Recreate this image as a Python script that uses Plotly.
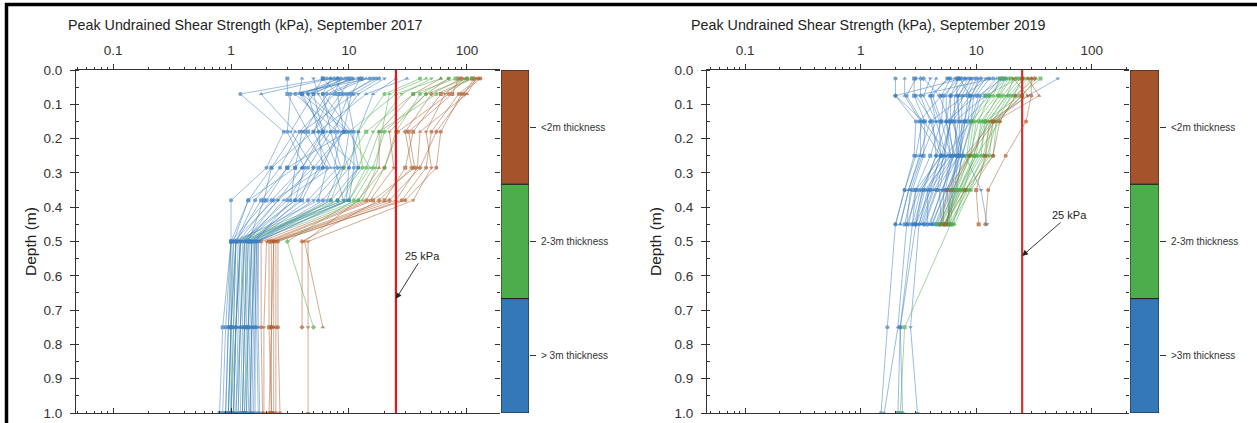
import math
import plotly.graph_objects as go

# ---------------- data ----------------
DEPTH_2017 = [0.025, 0.07, 0.18, 0.285, 0.38, 0.5, 0.75, 1.0]
DEPTH_2019 = [0.025, 0.075, 0.15, 0.25, 0.35, 0.45, 0.75, 1.0]

S2017_BLUE = [
    [6.5, 1.2, 2.8, 2.0, 1.0, 1.0, 0.9, 0.85],
    [7.0, 1.8, 3.5, 2.2, 1.4, 1.05, 0.95, 0.9],
    [3.0, 3.0, 4.5, 3.0, 1.8, 1.1, 1.0, 1.0],
    [8.0, 4.0, 6.0, 4.0, 2.2, 1.15, 1.1, 1.05],
    [9.0, 5.0, 3.2, 5.0, 2.5, 1.2, 1.15, 1.1],
    [10, 6.0, 7.0, 4.5, 3.0, 1.25, 1.2, 1.15],
    [12, 3.5, 8.0, 6.0, 3.5, 1.3, 1.25, 1.2],
    [14, 7.0, 5.0, 7.0, 2.8, 1.35, 1.3, 1.25],
    [6.0, 8.0, 9.0, 5.5, 4.0, 1.4, 1.35, 1.3],
    [7.5, 9.0, 6.0, 8.0, 4.5, 1.45, 1.4, 1.35],
    [11, 4.5, 10, 9.0, 5.0, 1.5, 1.45, 1.4],
    [16, 10, 7.5, 10, 6.0, 1.55, 1.5, 1.45],
    [18, 11, 4.0, 3.5, 3.2, 1.6, 1.55, 1.5],
    [31, 14, 5.5, 12, 7.0, 1.65, 1.6, 1.55],
    [9.5, 4.0, 9.5, 3.0, 2.0, 1.0, 0.95, 0.9],
    [13, 6.5, 4.2, 6.5, 5.5, 1.1, 1.05, 1.0],
    [5.0, 5.5, 8.5, 7.5, 9.0, 1.2, 1.1, 1.05],
    [8.5, 7.5, 3.8, 2.6, 1.6, 1.1, 1.0, 0.95],
    [17, 9.5, 11, 11, 10, 1.7, 1.65, 1.7],
    [4.0, 3.8, 6.5, 4.0, 2.5, 1.3, 1.2, 1.1],
    [10.5, 8.5, 5.0, 2.2, 1.9, 1.4, 1.3, 1.25],
    [12.5, 10.5, 9.0, 5.0, 3.8, 1.5, 1.4, 1.35],
    [20, 12, 7.0, 8.5, 6.5, 1.6, 1.5, 1.45],
    [7.0, 6.0, 10.5, 12, 8.0, 1.65, 1.6, 1.6],
    [15, 3.2, 3.0, 4.2, 3.5, 1.2, 1.1, 1.05],
    [25, 16, 12, 10, 9.5, 1.7, 1.7, 1.75],
    [6.0, 5.0, 6.0, 3.5, 1.4, 1.0, 0.85, 0.8],
    [8.0, 4.5, 5.5, 6.0, 2.3, 1.05, 1.0, 0.95],
]
S2017_GREEN = [
    [40, 20, 12, 13, 8.0, 1.0, 1.0, 0.95],
    [60, 25, 10, 15, 10, 1.3, 1.2, 1.15],
    [80, 35, 14, 9.0, 7.0, 1.5, 1.4, 1.3],
    [100, 45, 20, 16, 11, 3.0, 5.0, None],
    [50, 28, 16, 12, 9.0, 1.1, 1.05, 1.0],
    [70, 40, 25, 20, 12, 1.35, 1.3, 1.25],
    [110, 55, 18, 14, 10, 1.2, 1.1, 1.0],
    [45, 22, 19, 17, 13, 1.6, 1.5, 1.45],
]
S2017_BROWN = [
    [130, 90, 60, 55, 30, 2.4, 2.4, 2.4],
    [120, 100, 40, 38, 25, 2.3, 2.3, 2.3],
    [110, 60, 35, 30, 20, 2.2, 2.2, 2.2],
    [90, 50, 30, 34, 18, 4.0, 4.0, None],
    [70, 45, 22, 24, 15, 2.0, 1.9, 1.9],
    [125, 85, 50, 45, 28, 2.5, 2.5, 2.6],
    [100, 70, 26, 20, 14, 1.8, 1.8, 1.85],
    [60, 35, 18, 18, 12, 4.2, 6.0, None],
    [85, 75, 32, 36, 16, 2.1, 2.1, 2.2],
    [115, 95, 55, 40, 22, 2.3, 2.2, 2.1],
    [95, 65, 45, 50, 35, 4.5, 4.5, 4.5],
]

S2019_BLUE = [
    [2.0, 2.0, 3.0, 2.9, 2.4, 2.0, None, None],
    [2.4, 2.4, 3.3, 3.3, 2.6, 2.2, None, None],
    [2.9, 2.9, 3.6, 3.5, 2.8, 2.4, None, None],
    [3.3, 3.3, 4.0, 5.0, 3.0, 2.6, None, None],
    [4.0, 3.5, 4.5, 5.5, 3.3, 2.8, None, None],
    [5.6, 4.2, 5.0, 6.0, 3.6, 3.0, None, None],
    [6.0, 5.0, 3.2, 4.9, 4.0, 3.2, None, None],
    [6.5, 5.5, 5.5, 6.5, 4.3, 3.4, None, None],
    [7.0, 6.0, 6.0, 5.2, 4.6, 3.6, None, None],
    [7.5, 2.0, 3.5, 5.8, 3.8, 3.8, None, None],
    [8.0, 6.5, 6.5, 7.0, 5.0, 4.0, None, None],
    [8.5, 7.0, 7.0, 6.2, 5.4, 4.2, None, None],
    [9.0, 7.5, 7.5, 7.3, 5.8, 4.4, None, None],
    [9.5, 8.0, 4.0, 3.2, 2.6, 2.2, None, None],
    [10, 8.5, 8.0, 6.8, 6.2, 4.6, None, None],
    [11, 9.0, 8.5, 7.0, 6.5, 4.8, None, None],
    [12, 9.5, 9.0, 5.5, 4.8, 5.0, None, None],
    [13, 10, 5.5, 6.0, 5.2, 5.2, None, None],
    [14, 3.0, 4.2, 4.5, 3.5, 2.9, None, None],
    [15, 11, 9.3, 7.5, 6.8, 5.4, None, None],
    [16, 12, 6.5, 6.8, 6.0, 5.6, None, None],
    [18, 13, 8.0, 7.2, 5.6, 5.9, None, None],
    [51, 28, 14, 8.0, 11, 12.4, None, None],
    [5.8, 4.0, 4.8, 4.9, 3.2, 2.5, None, None],
    [6.8, 6.8, 7.2, 7.0, 4.5, 3.5, None, None],
    [12.5, 7.8, 6.0, 5.3, 4.2, 3.3, None, None],
    [17, 10.5, 9.0, 7.6, 6.6, 5.5, None, None],
    [3.5, 4.8, 5.8, 6.3, 4.0, 3.0, None, None],
    [10.5, 9.2, 7.8, 6.4, 5.1, 3.9, None, None],
    [7.2, 8.8, 6.2, 7.8, 5.5, 4.1, None, None],
    [3.0, 2.5, 3.4, 3.0, 2.4, 2.0, 1.7, 1.5],
    [4.5, 4.0, 4.5, 3.4, 2.7, 2.5, 2.1, 1.6],
    [7.0, 5.2, 5.0, 4.0, 3.0, 2.8, 2.2, 2.1],
    [8.0, 6.0, 5.5, 4.5, 3.4, 3.0, 2.2, 2.3],
    [9.0, 7.0, 6.0, 5.0, 3.8, 3.2, 2.7, 3.1],
]
S2019_GREEN = [
    [16, 14, 9.0, 8.3, 6.0, 4.5, None, None],
    [18, 15, 10, 9.0, 6.5, 4.8, None, None],
    [20, 16, 11, 10, 7.0, 5.0, None, None],
    [22, 17, 12, 11, 7.5, 5.2, None, None],
    [24, 18, 13, 12, 8.0, 5.5, None, None],
    [26, 19, 14, 13, 8.5, 5.8, None, None],
    [28, 20, 15, 14, 9.0, 6.0, None, None],
    [30, 22, 16, 10, 7.2, 5.3, None, None],
    [36, 24, 12, 9.5, 7.8, 6.3, None, None],
    [17, 13, 10.5, 8.8, 6.8, 4.9, None, None],
    [21, 18.5, 12.5, 10.5, 7.4, 5.6, None, None],
    [25, 21, 13.5, 11.5, 8.2, 6.1, None, None],
    [19, 15.5, 11.5, 9.5, 7.1, 5.4, None, None],
    [33, 25, 15, 12.5, 8.8, 6.5, None, None],
    [23, 12, 9.5, 8.6, 6.3, 6.0, 2.4, 2.2],
]
S2019_BROWN = [
    [30, 30, 27, 18, 12.7, 12, None, None],
    [28, 35, 14.5, 8.8, 5.6, 5.0, None, None],
    [25, 25, 14, 12, 10, 10.5, None, None],
    [32, 22, 16, 14, 8.0, 5.3, None, None],
    [21, 28, 13, 8.8, 6.2, 5.6, None, None],
]

LIMIT_KPA = 25
THICKNESS_SPANS = [1 / 3, 1 / 3, 1 / 3]
THICKNESS_BASES = [0, 1 / 3, 2 / 3]
THICKNESS_MID = [1 / 6, 1 / 2, 5 / 6]
LABELS_2017 = ["<2m thickness", "2-3m thickness", "> 3m thickness"]
LABELS_2019 = ["<2m thickness", "2-3m thickness", ">3m thickness"]
TITLES = ["Peak Undrained Shear Strength (kPa), September 2017",
          "Peak Undrained Shear Strength (kPa), September 2019"]

# ---------------- style ----------------
W, H = 1257, 423
BLUE = "#3b7ec2"
GREEN = "#4cae4c"
BROWN = "#ad5a2a"
CB_COLORS = ["#a4532a", "#4cad4a", "#3478ba"]
AX = "#333333"
FONT = "Liberation Sans, Arial, sans-serif"
SYMS = ["circle", "triangle-up", "square", "diamond", "triangle-down", "circle"]


def fx(px):
    return px / W


def fy(py):
    return 1 - py / H


fig = go.Figure()

PANELS = [
    dict(xa="x", ya="y", xb="x2", cbx="x3", cby="y3", cbl="y4",
         px=(76, 500), cb=(501, 529), xr=(-1.314, 2.28),
         depth=DEPTH_2017,
         groups=[(S2017_BROWN, BROWN), (S2017_GREEN, GREEN), (S2017_BLUE, BLUE)],
         red="#e8161b", labels=LABELS_2017, title=TITLES[0], tx=245,
         ylab=30, arrow=(0.667, 27, -43)),
    dict(xa="x4", ya="y5", xb="x5", cbx="x6", cby="y6", cbl="y7",
         px=(707, 1129), cb=(1130, 1159), xr=(-1.331, 2.323),
         depth=DEPTH_2019,
         groups=[(S2019_BLUE, BLUE), (S2019_GREEN, GREEN), (S2019_BROWN, BROWN)],
         red="#d4322c", labels=LABELS_2019, title=TITLES[1], tx=868,
         ylab=655, arrow=(0.542, 47, -41)),
]

YTOP, YBOT = 70, 413
ydom = [fy(YBOT), fy(YTOP)]

layout = {}
annotations = []
for P in PANELS:
    for rows, col in P["groups"]:
        for i, r in enumerate(rows):
            fig.add_trace(go.Scatter(
                x=r, y=P["depth"], mode="lines+markers",
                line=dict(color=col, width=0.7),
                marker=dict(symbol=SYMS[i % len(SYMS)], size=4, color=col),
                opacity=0.72, xaxis=P["xa"], yaxis=P["ya"],
                showlegend=False, hoverinfo="skip"))
    fig.add_trace(go.Scatter(x=[LIMIT_KPA, LIMIT_KPA], y=[0, 1], mode="lines",
                             line=dict(color=P["red"], width=2.2),
                             xaxis=P["xa"], yaxis=P["ya"], showlegend=False,
                             hoverinfo="skip"))
    fig.add_trace(go.Scatter(x=[1], y=[0.5], mode="markers",
                             marker=dict(opacity=0), xaxis=P["xb"], yaxis=P["ya"],
                             showlegend=False, hoverinfo="skip"))
    fig.add_trace(go.Bar(x=[0, 0, 0], y=THICKNESS_SPANS, base=THICKNESS_BASES,
                         marker=dict(color=CB_COLORS, line=dict(color="#222", width=1)),
                         width=1, xaxis=P["cbx"], yaxis=P["cby"],
                         showlegend=False, hoverinfo="skip"))
    fig.add_trace(go.Scatter(x=[0], y=[0.5], mode="markers", marker=dict(opacity=0),
                             xaxis=P["cbx"], yaxis=P["cbl"], showlegend=False,
                             hoverinfo="skip"))

    xk = "xaxis" + P["xa"][1:]
    yk = "yaxis" + P["ya"][1:]
    xbk = "xaxis" + P["xb"][1:]
    cbxk = "xaxis" + P["cbx"][1:]
    cbyk = "yaxis" + P["cby"][1:]
    cblk = "yaxis" + P["cbl"][1:]
    xdom = [fx(P["px"][0]), fx(P["px"][1])]
    cbdom = [fx(P["cb"][0]), fx(P["cb"][1])]

    common_x = dict(type="log", range=list(P["xr"]), domain=xdom,
                    showgrid=False, zeroline=False, showline=True,
                    linecolor=AX, linewidth=1, tickcolor=AX, dtick=1,
                    automargin=False)
    layout[xk] = dict(common_x, anchor=P["ya"], side="top", ticks="outside",
                      ticklen=5, tickwidth=1, ticklabelstandoff=4,
                      tickfont=dict(size=13.5, color="#333"),
                      minor=dict(dtick="D1", ticks="outside", ticklen=2.5,
                                 tickcolor=AX, showgrid=False))
    layout[xbk] = dict(common_x, anchor=P["ya"], overlaying=P["xa"], side="bottom",
                       ticks="inside", ticklen=5, showticklabels=False,
                       minor=dict(dtick="D1", ticks="inside", ticklen=2.5,
                                  tickcolor=AX, showgrid=False))
    layout[yk] = dict(domain=ydom, anchor=P["xa"], range=[1, 0], dtick=0.1,
                      tickformat=".1f", showgrid=False, zeroline=False,
                      showline=True, linecolor=AX, linewidth=1, ticks="outside",
                      ticklen=5, tickcolor=AX, ticklabelstandoff=5,
                      automargin=False,
                      tickfont=dict(size=13.5, color="#333"),
                      minor=dict(dtick=0.05, ticks="inside", ticklen=3,
                                 tickcolor=AX, showgrid=False))
    layout[cbxk] = dict(domain=cbdom, anchor=P["cby"], range=[-0.5, 0.5],
                        visible=False, fixedrange=True, automargin=False)
    layout[cbyk] = dict(domain=ydom, anchor=P["cbx"], range=[1, 0], side="left",
                        dtick=0.1, showticklabels=False, ticks="outside",
                        ticklen=5, tickcolor=AX, showgrid=False, zeroline=False,
                        showline=False, automargin=False,
                        minor=dict(dtick=0.05, ticks="outside", ticklen=3,
                                   tickcolor=AX, showgrid=False))
    layout[cblk] = dict(anchor=P["cbx"], overlaying=P["cby"], range=[1, 0],
                        side="right", tickmode="array", tickvals=THICKNESS_MID,
                        ticktext=P["labels"], ticks="outside", ticklen=6,
                        tickcolor=AX, ticklabelstandoff=3, automargin=False,
                        tickfont=dict(size=10, color="#333"),
                        showgrid=False, zeroline=False, showline=False)

    annotations.append(dict(text=P["title"], xref="paper", yref="paper",
                            x=fx(P["tx"]), y=fy(25), xanchor="center",
                            yanchor="middle", showarrow=False,
                            font=dict(size=14.3, color="#222")))
    annotations.append(dict(text="Depth (m)", xref="paper", yref="paper",
                            x=fx(P["ylab"]), y=fy(242), xanchor="center",
                            yanchor="middle", textangle=-90, showarrow=False,
                            font=dict(size=15.5, color="#222")))
    ay_d, axp, ayp = P["arrow"]
    annotations.append(dict(text="25 kPa", xref=P["xa"], yref=P["ya"],
                            x=math.log10(LIMIT_KPA), y=ay_d, ax=axp, ay=ayp,
                            showarrow=True, arrowhead=2, arrowsize=1.3,
                            arrowwidth=0.9, arrowcolor="#222",
                            font=dict(size=11, color="#222")))

fig.update_layout(
    template="none",
    width=W, height=H, margin=dict(l=0, r=0, t=0, b=0, pad=0),
    paper_bgcolor="white", plot_bgcolor="white", showlegend=False,
    font=dict(family=FONT, color="#333"),
    annotations=annotations,
    shapes=[
        dict(type="line", xref="paper", yref="paper", x0=fx(5), x1=1,
             y0=fy(4.5), y1=fy(4.5), line=dict(color="black", width=3.5)),
        dict(type="line", xref="paper", yref="paper", x0=fx(6.5), x1=fx(6.5),
             y0=0, y1=fy(3), line=dict(color="black", width=3.5)),
    ],
    **layout,
)

fig.write_html("out.html", config={"displayModeBar": False},
               post_script="document.body.style.margin='0';"
                           "document.body.style.overflow='hidden';")
